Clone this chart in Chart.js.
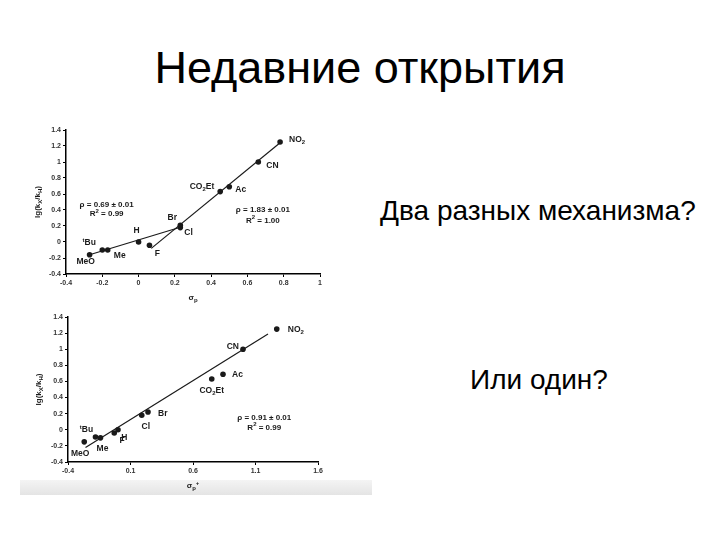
<!DOCTYPE html>
<html>
<head>
<meta charset="utf-8">
<script src="https://cdn.jsdelivr.net/npm/chart.js@4.4.1/dist/chart.umd.min.js"></script>
<style>
  html, body { margin: 0; padding: 0; background: #fff; }
  body { width: 720px; height: 540px; position: relative; overflow: hidden; font-family: "Liberation Sans", Arial, sans-serif; }
  .title { position: absolute; left: 0; width: 720px; top: 45px; text-align: center; font-size: 45px; line-height: 1; color: #000; }
  .note { position: absolute; font-size: 28px; line-height: 1; color: #000; white-space: nowrap; }
  .band { position: absolute; left: 20px; top: 480px; width: 352px; height: 15px;
          background: linear-gradient(#f4f4f4, #e4e4e4); }
  canvas { position: absolute; }
</style>
</head>
<body>
<div class="title">Недавние открытия</div>
<div class="note" style="left:380px; top:197px;">Два разных механизма?</div>
<div class="note" style="left:470px; top:366px;">Или один?</div>
<div class="band"></div>
<canvas id="chart-top" width="310" height="190" style="left:30px; top:118px;"></canvas>
<canvas id="chart-bottom" width="352" height="190" style="left:20px; top:305px;"></canvas>

<script>
// substituents, same order in both plots
const substituents = ['MeO', 'tBu', 'Me', 'H', 'F', 'Cl', 'Br', 'CO2Et', 'Ac', 'CN', 'NO2'];

// top plot: lg(kX/kH) vs sigma_p
const sigmaTop = [-0.27, -0.20, -0.17, 0, 0.06, 0.23, 0.23, 0.45, 0.50, 0.66, 0.78];
const lgTop = [-0.16, -0.10, -0.10, 0, -0.04, 0.18, 0.21, 0.63, 0.69, 1.00, 1.25];
// two fitted lines (rho 0.69 and rho 1.83)
const fitTopLowX = [-0.27, 0.23];
const fitTopLowY = [-0.16, 0.185];
const fitTopHighX = [0.07, 0.78];
const fitTopHighY = [-0.08, 1.24];

// bottom plot: lg(kX/kH) vs sigma_p+
const sigmaBottom = [-0.27, -0.18, -0.14, -0.03, 0, 0.19, 0.24, 0.75, 0.84, 1.00, 1.27];
const lgBottom = [-0.15, -0.09, -0.10, -0.04, 0, 0.18, 0.22, 0.63, 0.69, 1.00, 1.25];
const fitBottomX = [-0.26, 1.20];
const fitBottomY = [-0.22, 1.19];

// tick labels
const xTicksTop = [-0.4, -0.2, 0, 0.2, 0.4, 0.6, 0.8, 1];
const xTicksBottom = [-0.4, 0.1, 0.6, 1.1, 1.6];
const yTicks = [-0.4, -0.2, 0, 0.2, 0.4, 0.6, 0.8, 1, 1.2, 1.4];

// label text with sub/superscripts
const richNames = {
    'MeO': [['MeO', '']],
    'tBu': [['t', 'sup'], ['Bu', '']],
    'Me': [['Me', '']],
    'H': [['H', '']],
    'F': [['F', '']],
    'Cl': [['Cl', '']],
    'Br': [['Br', '']],
    'CO2Et': [['CO', ''], ['2', 'sub'], ['Et', '']],
    'Ac': [['Ac', '']],
    'CN': [['CN', '']],
    'NO2': [['NO', ''], ['2', 'sub']]
};

// label placement relative to the point: [dx, dy, align]
const labelPosTop = {
    'MeO': [-4, 7, 'center'], 'tBu': [-13, -7, 'center'], 'Me': [12, 6, 'center'],
    'H': [-2, -11, 'center'], 'F': [8, 8, 'center'], 'Cl': [4, 5, 'left'],
    'Br': [-8, -8, 'center'], 'CO2Et': [-6, -5, 'right'], 'Ac': [6, 3, 'left'],
    'CN': [8, 4, 'left'], 'NO2': [9, -2, 'left']
};
const labelPosBottom = {
    'MeO': [-4, 12, 'center'], 'tBu': [-9, -7, 'center'], 'Me': [2, 11, 'center'],
    'H': [10, 5, 'center'], 'F': [4, 11, 'center'], 'Cl': [4, 11, 'center'],
    'Br': [10, 2, 'left'], 'CO2Et': [0, 12, 'center'], 'Ac': [9, 0, 'left'],
    'CN': [-4, -3, 'right'], 'NO2': [11, 1, 'left']
};

const ink = '#1a1a1a';
const FONT = '"Liberation Sans", Arial, sans-serif';

// draws text made of parts [text, 'sub'|'sup'|''] centred vertically on y
function drawRich(ctx, parts, x, y, size, align) {
    const small = Math.round(size * 0.7);
    let total = 0;
    parts.forEach(p => {
        ctx.font = 'bold ' + (p[1] ? small : size) + 'px ' + FONT;
        total += ctx.measureText(p[0]).width;
    });
    let cx = x;
    if (align === 'center') cx = x - total / 2;
    if (align === 'right') cx = x - total;
    ctx.textAlign = 'left';
    ctx.textBaseline = 'middle';
    parts.forEach(p => {
        ctx.font = 'bold ' + (p[1] ? small : size) + 'px ' + FONT;
        let yy = y;
        if (p[1] === 'sub') yy = y + size * 0.3;
        if (p[1] === 'sup') yy = y - size * 0.35;
        ctx.fillText(p[0], cx, yy);
        cx += ctx.measureText(p[0]).width;
    });
}

// point labels, rho/R2 notes and axis titles
const annotatePlugin = {
    id: 'annotate',
    afterDatasetsDraw: function(chart, args, opts) {
        const ctx = chart.ctx;
        const xs = chart.scales.x, ys = chart.scales.y;
        ctx.save();
        ctx.fillStyle = ink;
        opts.points.forEach((name, i) => {
            const pos = opts.labelPos[name];
            const px = xs.getPixelForValue(opts.xVals[i]) + pos[0];
            const py = ys.getPixelForValue(opts.yVals[i]) + pos[1];
            drawRich(ctx, richNames[name], px, py, 8.5, pos[2]);
        });
        opts.notes.forEach(n => {
            const px = xs.getPixelForValue(n.x);
            const py = ys.getPixelForValue(n.y);
            drawRich(ctx, n.parts, px, py, 8, 'center');
        });
        // x title
        const area = chart.chartArea;
        drawRich(ctx, opts.xTitle, (area.left + area.right) / 2, area.bottom + 24, 8, 'center');
        // y title, rotated
        ctx.translate(opts.yTitleX, (area.top + area.bottom) / 2);
        ctx.rotate(-Math.PI / 2);
        drawRich(ctx, [['lg(k', ''], ['X', 'sub'], ['/k', ''], ['H', 'sub'], [')', '']], 0, 0, 8, 'center');
        ctx.restore();
    }
};

function fmt(v) {
    return String(+v.toFixed(1));
}

function makeScales(xTicks, xMin, xMax, yWidth, xHeight) {
    const axisStyle = {
        grid: { drawOnChartArea: false, drawTicks: true, tickLength: 3, color: '#000', lineWidth: 1 },
        border: { color: '#000', width: 1.5 },
        ticks: { color: '#333', font: { size: 7, weight: 'bold', family: FONT }, padding: 2, callback: fmt }
    };
    return {
        x: {
            type: 'linear', min: xMin, max: xMax,
            ...axisStyle,
            ticks: { ...axisStyle.ticks, maxRotation: 0 },
            afterBuildTicks: s => { s.ticks = xTicks.map(v => ({ value: v })); },
            afterFit: s => { s.height = xHeight; }
        },
        y: {
            type: 'linear', min: -0.4, max: 1.4,
            ...axisStyle,
            afterBuildTicks: s => { s.ticks = yTicks.map(v => ({ value: v })); },
            afterFit: s => { s.width = yWidth; }
        }
    };
}

function pointSet(xv, yv) {
    return {
        data: xv.map((x, i) => ({ x: x, y: yv[i] })),
        showLine: false, pointRadius: 2.8, pointBackgroundColor: ink, pointBorderWidth: 0
    };
}

function lineSet(xv, yv) {
    return {
        data: xv.map((x, i) => ({ x: x, y: yv[i] })),
        showLine: true, borderColor: ink, borderWidth: 1.2, pointRadius: 0, fill: false
    };
}

const baseOptions = {
    responsive: false,
    animation: false,
    events: [],
    plugins: { legend: { display: false }, tooltip: { enabled: false } }
};

new Chart(document.getElementById('chart-top'), {
    type: 'scatter',
    data: {
        datasets: [
            lineSet(fitTopLowX, fitTopLowY),
            lineSet(fitTopHighX, fitTopHighY),
            pointSet(sigmaTop, lgTop)
        ]
    },
    options: {
        ...baseOptions,
        layout: { padding: { top: 12, right: 20, left: 0, bottom: 0 } },
        scales: makeScales(xTicksTop, -0.4, 1, 36, 34),
        plugins: {
            ...baseOptions.plugins,
            annotate: {
                points: substituents, xVals: sigmaTop, yVals: lgTop, labelPos: labelPosTop,
                xTitle: [['σ', ''], ['p', 'sub']], yTitleX: 8,
                notes: [
                    { x: -0.176, y: 0.46, parts: [['ρ = 0.69 ± 0.01', '']] },
                    { x: -0.176, y: 0.35, parts: [['R', ''], ['2', 'sup'], [' = 0.99', '']] },
                    { x: 0.685, y: 0.40, parts: [['ρ = 1.83 ± 0.01', '']] },
                    { x: 0.685, y: 0.27, parts: [['R', ''], ['2', 'sup'], [' = 1.00', '']] }
                ]
            }
        }
    },
    plugins: [annotatePlugin]
});

new Chart(document.getElementById('chart-bottom'), {
    type: 'scatter',
    data: {
        datasets: [
            lineSet(fitBottomX, fitBottomY),
            pointSet(sigmaBottom, lgBottom)
        ]
    },
    options: {
        ...baseOptions,
        layout: { padding: { top: 12, right: 54, left: 0, bottom: 0 } },
        scales: makeScales(xTicksBottom, -0.4, 1.6, 48, 33),
        plugins: {
            ...baseOptions.plugins,
            annotate: {
                points: substituents, xVals: sigmaBottom, yVals: lgBottom, labelPos: labelPosBottom,
                xTitle: [['σ', ''], ['p', 'sub'], ['+', 'sup']], yTitleX: 19,
                notes: [
                    { x: 1.17, y: 0.15, parts: [['ρ = 0.91 ± 0.01', '']] },
                    { x: 1.17, y: 0.03, parts: [['R', ''], ['2', 'sup'], [' = 0.99', '']] }
                ]
            }
        }
    },
    plugins: [annotatePlugin]
});
</script>
</body>
</html>
